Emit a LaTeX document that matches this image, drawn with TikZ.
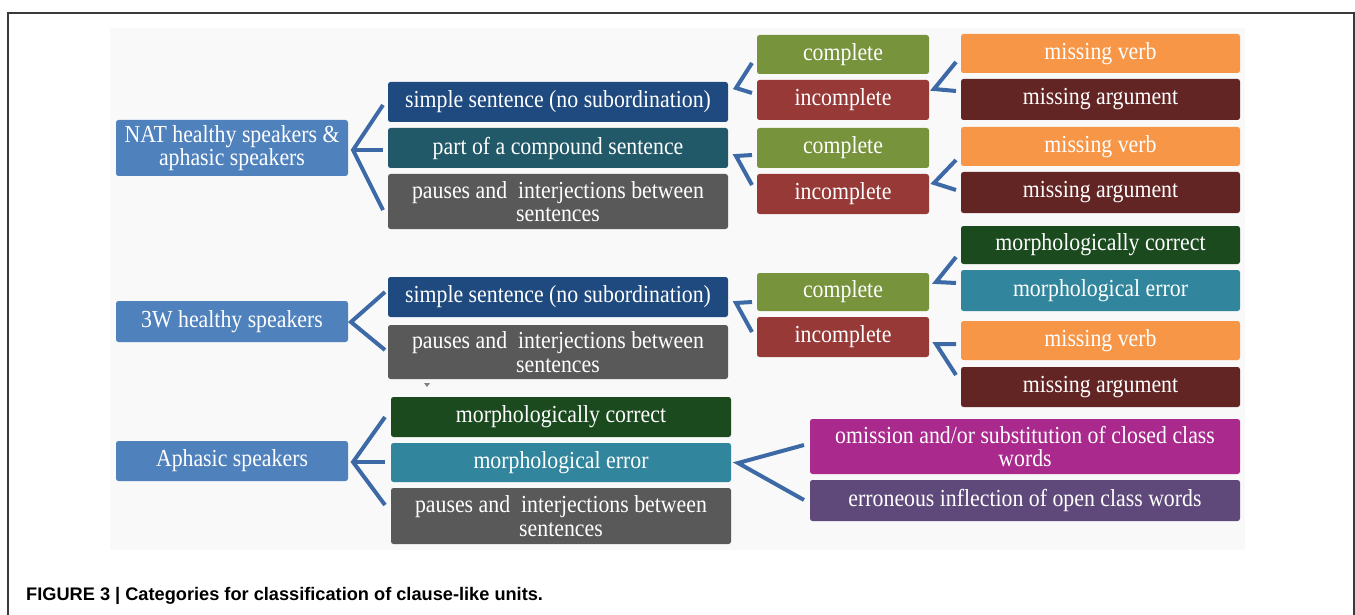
\documentclass[tikz,border=0pt]{standalone}
\usepackage{fontspec}
\setmainfont{Liberation Serif}[FakeStretch=0.89]
\newfontfamily\capfont{Liberation Sans}
\definecolor{cParent}{HTML}{4F81BD}
\definecolor{cSimple}{HTML}{1F4A80}
\definecolor{cComp}{HTML}{215968}
\definecolor{cPause}{HTML}{595959}
\definecolor{cComplete}{HTML}{77933C}
\definecolor{cIncomplete}{HTML}{973937}
\definecolor{cVerb}{HTML}{F79646}
\definecolor{cArg}{HTML}{632523}
\definecolor{cMCorrect}{HTML}{1A4A1E}
\definecolor{cMError}{HTML}{31859C}
\definecolor{cOmission}{HTML}{A92A8C}
\definecolor{cInflect}{HTML}{5F497A}
\definecolor{cLink}{HTML}{3D6AA6}
\definecolor{cPanel}{HTML}{F9F9F9}
\definecolor{cFrame}{HTML}{3A3A3A}
\tikzset{
  box/.style={rounded corners=2.5pt, text=white, align=center, inner sep=0pt,
    font=\fontsize{24.5}{23.5}\selectfont},
  link/.style={draw=cLink, line width=4pt, line join=miter},
}
\begin{document}
\begin{tikzpicture}[x=1pt,y=-1pt]
\useasboundingbox (0,0) rectangle (1355,615);
\fill[cPanel] (110,28) rectangle (1245,550);
\draw[cFrame, line width=1.5pt] (8,615) -- (8,13) -- (1354,13) -- (1354,615);

% level 0
\node[box, fill=cParent, minimum width=232pt, minimum height=56pt] (nat) at (232,148) {NAT healthy speakers \&\\aphasic speakers};
\node[box, fill=cParent, minimum width=232pt, minimum height=41pt] (w3) at (232,321.5) {3W healthy speakers};
\node[box, fill=cParent, minimum width=232pt, minimum height=40pt] (aph) at (232,461) {Aphasic speakers};

% level 1
\node[box, fill=cSimple, minimum width=340pt, minimum height=40pt] (s1) at (558,102) {simple sentence (no subordination)};
\node[box, fill=cComp, minimum width=340pt, minimum height=40pt] (cs) at (558,148) {part of a compound sentence};
\node[box, fill=cPause, minimum width=340pt, minimum height=55pt] (p1) at (558,201.5) {pauses and~ interjections between\\sentences};
\node[box, fill=cSimple, minimum width=340pt, minimum height=40pt] (s2) at (558,297) {simple sentence (no subordination)};
\node[box, fill=cPause, minimum width=340pt, minimum height=54pt] (p2) at (558,352) {pauses and~ interjections between\\sentences};
\node[box, fill=cMCorrect, minimum width=340pt, minimum height=40pt] (amc) at (561,417) {morphologically correct};
\node[box, fill=cMError, minimum width=340pt, minimum height=39pt] (ame) at (561,462.5) {morphological error};
\node[box, fill=cPause, minimum width=340pt, minimum height=56pt] (p3) at (561,516) {pauses and~ interjections between\\sentences};

% level 2
\node[box, fill=cComplete, minimum width=172pt, minimum height=39pt] (c1) at (843,54.5) {complete};
\node[box, fill=cIncomplete, minimum width=172pt, minimum height=40pt] (i1) at (843,100) {incomplete};
\node[box, fill=cComplete, minimum width=172pt, minimum height=40pt] (c2) at (843,148) {complete};
\node[box, fill=cIncomplete, minimum width=172pt, minimum height=40pt] (i2) at (843,194) {incomplete};
\node[box, fill=cComplete, minimum width=172pt, minimum height=38pt] (c3) at (843,292) {complete};
\node[box, fill=cIncomplete, minimum width=172pt, minimum height=40pt] (i3) at (843,337) {incomplete};

% level 3
\node[box, fill=cVerb, minimum width=279pt, minimum height=39pt] (mv1) at (1100.5,53.5) {missing verb};
\node[box, fill=cArg, minimum width=279pt, minimum height=41pt] (ma1) at (1100.5,99.5) {missing argument};
\node[box, fill=cVerb, minimum width=279pt, minimum height=39pt] (mv2) at (1100.5,146.5) {missing verb};
\node[box, fill=cArg, minimum width=279pt, minimum height=41pt] (ma2) at (1100.5,192.5) {missing argument};
\node[box, fill=cMCorrect, minimum width=279pt, minimum height=38pt] (mc3) at (1100.5,245) {morphologically correct};
\node[box, fill=cMError, minimum width=279pt, minimum height=41pt] (me3) at (1100.5,290.5) {morphological error};
\node[box, fill=cVerb, minimum width=279pt, minimum height=39pt] (mv3) at (1100.5,340.5) {missing verb};
\node[box, fill=cArg, minimum width=279pt, minimum height=40pt] (ma3) at (1100.5,387) {missing argument};
\node[box, fill=cOmission, minimum width=430pt, minimum height=55pt] (om) at (1025,446.5) {omission and/or substitution of closed class\\words};
\node[box, fill=cInflect, minimum width=430pt, minimum height=41pt] (er) at (1025,500.5) {erroneous inflection of open class words};

% small marker
\fill[gray] (424,383) -- (430,383) -- (427,387) -- cycle;

% bracket connectors
\coordinate (natV) at (353,150); \coordinate (natT) at (383,105); \coordinate (natB) at (383,210); \coordinate (natM) at (383,150);
\draw[link] (natT) -- (natV) -- (natB); \draw[link] (natV) -- (natM);
\coordinate (w3V) at (351,322); \coordinate (w3T) at (385,292); \coordinate (w3B) at (385,350);
\draw[link] (w3T) -- (w3V) -- (w3B);
\coordinate (aphV) at (353,462); \coordinate (aphT) at (385,417); \coordinate (aphB) at (385,505); \coordinate (aphM) at (385,462);
\draw[link] (aphT) -- (aphV) -- (aphB); \draw[link] (aphV) -- (aphM);
\coordinate (s1V) at (736,88); \coordinate (s1T) at (752,63); \coordinate (s1B) at (752,93);
\draw[link] (s1T) -- (s1V) -- (s1B);
\coordinate (csV) at (736,156); \coordinate (csT) at (752,155); \coordinate (csB) at (752,185);
\draw[link] (csT) -- (csV) -- (csB);
\coordinate (i1V) at (934,89); \coordinate (i1T) at (956,62); \coordinate (i1B) at (956,91);
\draw[link] (i1T) -- (i1V) -- (i1B);
\coordinate (i2V) at (934,183); \coordinate (i2T) at (956,160); \coordinate (i2B) at (956,190);
\draw[link] (i2T) -- (i2V) -- (i2B);
\coordinate (s2V) at (736,303); \coordinate (s2T) at (752,302); \coordinate (s2B) at (752,332);
\draw[link] (s2T) -- (s2V) -- (s2B);
\coordinate (c3V) at (936,282); \coordinate (c3T) at (956,257); \coordinate (c3B) at (956,283);
\draw[link] (c3T) -- (c3V) -- (c3B);
\coordinate (i3V) at (936,344); \coordinate (i3T) at (956,344); \coordinate (i3B) at (956,375);
\draw[link] (i3T) -- (i3V) -- (i3B);
\coordinate (ameV) at (738,463); \coordinate (ameT) at (804,445); \coordinate (ameB) at (804,500);
\draw[link] (ameT) -- (ameV) -- (ameB);

% caption
\node[anchor=base west, inner sep=0pt, font=\capfont\bfseries\fontsize{18.2}{20}\selectfont] (cap) at (26,600) {FIGURE 3 | Categories for classification of clause-like units.};
\end{tikzpicture}
\end{document}
